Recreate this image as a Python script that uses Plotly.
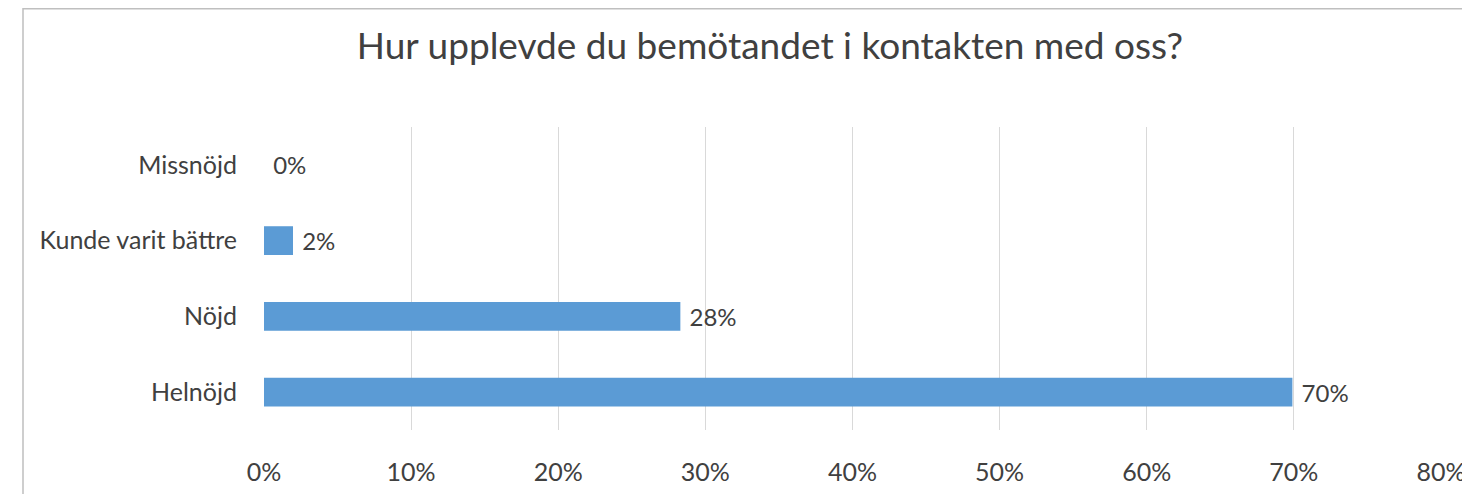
import plotly.graph_objects as go

categories = ["Helnöjd", "Nöjd", "Kunde varit bättre", "Missnöjd"]
shares = [0.699, 0.283, 0.0197, 0.0]
tick_values = [0, 0.1, 0.2, 0.3, 0.4, 0.5, 0.6, 0.7, 0.8]
tick_labels = ["0%", "10%", "20%", "30%", "40%", "50%", "60%", "70%", "80%"]
title_text = "Hur upplevde du bemötandet i kontakten med oss?"

FONT = "Lato, 'Open Sans', sans-serif"
TXT = "#404040"

# page has an 8px body margin; figure sized to fit the 1470x494 window
OFF = 8
W, H = 1470 - OFF, 494 - OFF
L = 264 - OFF
T = 127 - OFF
R = W - (1441 - OFF)
B = H - (430 - OFF)
plot_w = W - L - R
plot_h = H - T - B

fig = go.Figure(
    go.Bar(
        y=categories,
        x=shares,
        orientation="h",
        marker=dict(color="#5B9BD5", line=dict(width=0)),
        text=[" " + f"{round(v * 100):d}%" for v in shares],
        textposition="outside",
        textfont=dict(family=FONT, size=25, color=TXT),
        cliponaxis=False,
        hoverinfo="skip",
    )
)

fig.update_layout(
    width=W,
    height=H,
    margin=dict(l=L, r=R, t=T, b=B, autoexpand=False),
    paper_bgcolor="white",
    plot_bgcolor="white",
    bargap=0.62,
    showlegend=False,
    font=dict(family=FONT, color=TXT),
    title=dict(
        text=title_text,
        x=(770 - OFF) / W,
        xanchor="center",
        xref="container",
        y=1 - (46 - OFF) / H,
        yanchor="middle",
        yref="container",
        font=dict(family=FONT, size=37, color=TXT),
    ),
)

fig.update_xaxes(
    range=[0, 0.8],
    tickvals=tick_values,
    ticktext=tick_labels,
    showgrid=True,
    gridcolor="#D9D9D9",
    gridwidth=1,
    zeroline=False,
    showline=False,
    ticks="",
    ticklabelstandoff=25,
    tickfont=dict(family=FONT, size=25, color=TXT),
    automargin=False,
    fixedrange=True,
)
fig.update_yaxes(
    showgrid=False,
    zeroline=False,
    showline=False,
    ticks="",
    ticklabelstandoff=26,
    tickfont=dict(family=FONT, size=25, color=TXT),
    automargin=False,
    fixedrange=True,
)

# chart frame (cropped at right/bottom in reference)
x0 = (23 - OFF - L) / plot_w
ytop = 1 + (T - 0.8) / plot_h
fig.add_shape(
    type="path",
    xref="paper",
    yref="paper",
    path=f"M {x0} -0.5 L {x0} {ytop} L 1.2 {ytop}",
    line=dict(color="#BFBFBF", width=1.5),
)

fig.write_html("out.html")
